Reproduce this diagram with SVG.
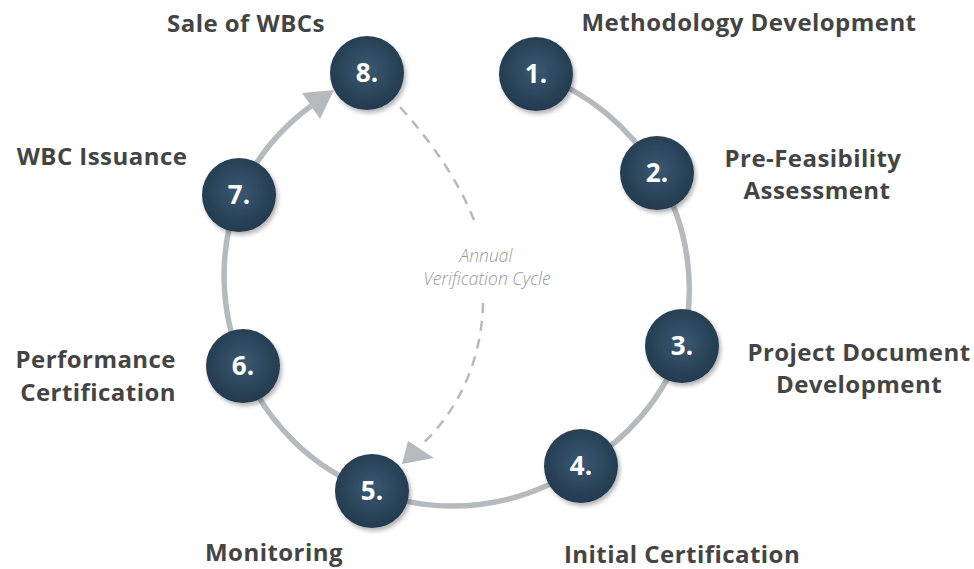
<svg xmlns="http://www.w3.org/2000/svg" width="974" height="569" viewBox="0 0 974 569">
<style>
.lbl{font-family:"Open Sans","Liberation Sans",sans-serif;font-weight:bold;font-size:24px;letter-spacing:0.45px;fill:#444444}
.num{font-family:"Open Sans","Liberation Sans",sans-serif;font-weight:bold;font-size:26px;fill:#ffffff;text-anchor:middle}
.note{font-family:"Open Sans","Liberation Sans",sans-serif;font-style:italic;font-weight:300;font-size:17.5px;fill:#999999;text-anchor:middle}
.ring{fill:none;stroke:#b6babd;stroke-width:5.5}
.dash{fill:none;stroke:#b6babd;stroke-width:2.5;stroke-dasharray:10 8}
.head{fill:#b6babd}
.disc{fill:url(#g);filter:url(#sh)}
</style>
<defs>
<radialGradient id="g" cx="50%" cy="45%" r="55%">
<stop offset="0" stop-color="#3a5971"/>
<stop offset="1" stop-color="#233a4e"/>
</radialGradient>
<filter id="sh" x="-30%" y="-30%" width="160%" height="160%">
<feDropShadow dx="2" dy="3" stdDeviation="2" flood-color="#000" flood-opacity="0.3"/>
</filter>
</defs>
<rect width="974" height="569" fill="#ffffff"/>
<g id="connectors">
<path class="ring" d="M536 74 A225 225 0 0 1 657 173 A225 225 0 0 1 682 346 A225 225 0 0 1 581 466 A225 225 0 0 1 372 491 A225 225 0 0 1 243 366 A225 225 0 0 1 239 195 A225 225 0 0 1 311 106"/>
<polygon class="head" points="334,90 302,93 320,119"/>
<path class="dash" d="M400 107 Q452 165 474 220 M483 303 C482 360 458 412 420 446"/>
<polygon class="head" points="402,464 408,441 434,458"/>
</g>
<g id="n1"><circle class="disc" cx="536" cy="74" r="37"/><text class="num" x="536" y="83">1.</text></g>
<g id="n2"><circle class="disc" cx="657" cy="173" r="37"/><text class="num" x="657" y="182">2.</text></g>
<g id="n3"><circle class="disc" cx="682" cy="346" r="37"/><text class="num" x="682" y="355">3.</text></g>
<g id="n4"><circle class="disc" cx="581" cy="466" r="37"/><text class="num" x="581" y="475">4.</text></g>
<g id="n5"><circle class="disc" cx="372" cy="491" r="37"/><text class="num" x="372" y="500">5.</text></g>
<g id="n6"><circle class="disc" cx="243" cy="366" r="37"/><text class="num" x="243" y="375">6.</text></g>
<g id="n7"><circle class="disc" cx="239" cy="195" r="37"/><text class="num" x="239" y="204">7.</text></g>
<g id="n8"><circle class="disc" cx="367" cy="73" r="37"/><text class="num" x="367" y="82">8.</text></g>
<g id="labels">
<text class="lbl" x="749" y="31" text-anchor="middle">Methodology Development</text>
<text class="lbl" x="813" y="167" text-anchor="middle">Pre-Feasibility</text>
<text class="lbl" x="817" y="199" text-anchor="middle">Assessment</text>
<text class="lbl" x="859" y="361" text-anchor="middle">Project Document</text>
<text class="lbl" x="859" y="393" text-anchor="middle">Development</text>
<text class="lbl" x="682" y="563" text-anchor="middle">Initial Certification</text>
<text class="lbl" x="274" y="561" text-anchor="middle">Monitoring</text>
<text class="lbl" x="176" y="368" text-anchor="end">Performance</text>
<text class="lbl" x="176" y="401" text-anchor="end">Certification</text>
<text class="lbl" x="102" y="165" text-anchor="middle">WBC Issuance</text>
<text class="lbl" x="246" y="32" text-anchor="middle">Sale of WBCs</text>
<text class="note" x="486" y="262">Annual</text>
<text class="note" x="487" y="285">Verification Cycle</text>
</g>
</svg>
